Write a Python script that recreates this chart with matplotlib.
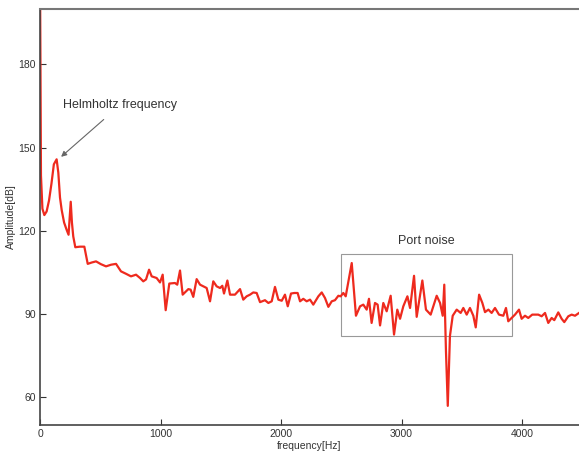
import matplotlib
matplotlib.use("Agg")
import matplotlib.pyplot as plt

plt.rcParams['font.family'] = ['Liberation Sans', 'DejaVu Sans']

freq = [0, 8, 20, 36, 55, 75, 95, 115, 138, 152, 166, 180, 200, 220, 237, 255, 265, 276, 293,
        330, 368, 396, 430, 465, 505, 548, 590, 631, 672, 715, 755, 797, 830, 857, 880, 905,
        927, 968, 996, 1018, 1043, 1073, 1120, 1139, 1162, 1184, 1231, 1250, 1272, 1300, 1328,
        1383, 1411, 1438, 1466, 1494, 1513, 1527, 1555, 1577, 1618, 1660, 1687, 1715, 1743,
        1770, 1798, 1826, 1867, 1895, 1923, 1950, 1978, 2006, 2033, 2056, 2083, 2110, 2138,
        2158, 2185, 2213, 2241, 2268, 2310, 2338, 2365, 2393, 2421, 2448, 2476, 2495, 2517,
        2537, 2587, 2622, 2656, 2683, 2711, 2730, 2752, 2780, 2802, 2822, 2849, 2877, 2910,
        2938, 2965, 2988, 3015, 3049, 3071, 3104, 3126, 3148, 3173, 3203, 3242, 3264, 3292,
        3320, 3342, 3355, 3369, 3384, 3402, 3425, 3458, 3491, 3513, 3541, 3568, 3596, 3616,
        3644, 3671, 3693, 3721, 3748, 3776, 3809, 3845, 3867, 3886, 3914, 3942, 3975, 3997,
        4025, 4052, 4085, 4135, 4163, 4191, 4218, 4246, 4268, 4301, 4329, 4351, 4384, 4412,
        4440, 4473]
amp = [215, 140, 128, 125.7, 127, 131, 137, 144, 145.8, 141, 132, 127.5, 123, 120.5, 118.6, 130.5,
       123, 118, 114.1, 114.3, 114.3, 108.1, 108.6, 109, 108, 107.2, 107.8, 108.1, 105.4, 104.5,
       103.6, 104.2, 103, 101.8, 102.5, 106, 103.6, 103, 101.4, 104.2, 91.4, 101, 101.2,
       100.6, 105.7, 97, 99, 98.8, 96.2, 102.6, 100.6, 99.4, 94.6, 101.8, 100, 99.4, 100.2,
       97.4, 102.1, 97, 97, 99, 95.2, 96.4, 97, 97.8, 97.6, 94.3, 95, 94, 94.6, 99.8, 95.2,
       94.8, 97, 92.8, 97.4, 97.6, 97.6, 94.6, 95.5, 94.6, 95.2, 93.4, 96.4, 97.8, 95.8,
       92.6, 94.6, 95, 96.6, 96.4, 97.6, 96.4, 108.4, 89.4, 92.8, 93.4, 91.6, 95.5, 86.8,
       94, 93.4, 85.9, 94, 91, 96.6, 82.6, 91.6, 88.3, 92.8, 96.4, 92.2, 103.8, 89, 95.2,
       102.1, 91.6, 89.8, 92.8, 96.6, 94, 89.4, 100.6, 76.6, 56.9, 82.1, 89.4, 91.6, 90.4,
       92.2, 89.8, 92.2, 89.4, 85.2, 97, 94, 90.7, 91.6, 90.4, 92.2, 89.8, 89.4, 92.2, 87.4,
       88.6, 89.8, 91.6, 88.3, 89.4, 88.6, 89.8, 89.8, 89.2, 90.4, 86.8, 88.6, 87.8, 90.6,
       88.3, 87.1, 89.2, 89.8, 89.4, 90.4]

xticks = [0, 1000, 2000, 3000, 4000]
yticks = [60, 90, 120, 150, 180]
box_x = [2500, 3920]
box_y = [82, 111.5]

fig = plt.figure(figsize=(5.79, 4.55), dpi=100)
ax = fig.add_axes([40 / 579, 1 - 425 / 455, 1 - 40 / 579, (425 - 9) / 455])

ax.plot(freq, amp, color='#ee2a1e', lw=1.6, solid_joinstyle='round', clip_on=True)
ax.set_xlim(0, 4473)
ax.set_ylim(50, 200)
ax.set_xticks(xticks)
ax.set_yticks(yticks)
ax.tick_params(direction='in', length=4, width=0.8, labelsize=7.5, colors='#333333', pad=3)

for s in ['left', 'bottom']:
    ax.spines[s].set_color('#444444')
    ax.spines[s].set_linewidth(1.2)
ax.spines['top'].set_color('#777777')
ax.spines['top'].set_linewidth(1.5)
ax.spines['right'].set_visible(False)

ax.set_xlabel('frequency[Hz]', fontsize=7.5, color='#333333', labelpad=1)
ax.set_ylabel('Amplitude[dB]', fontsize=7.5, color='#333333', labelpad=2)

ax.add_patch(plt.Rectangle((box_x[0], box_y[0]), box_x[1] - box_x[0], box_y[1] - box_y[0],
                           fill=False, edgecolor='#999999', lw=0.8))
ax.text(3209, 116.2, 'Port noise', fontsize=9, ha='center', va='center', color='#333333')

ax.annotate('Helmholtz frequency', xy=(175, 146.7), xytext=(664, 165.3),
            fontsize=9, ha='center', va='center', color='#333333',
            arrowprops=dict(arrowstyle='-|>', color='#666666', lw=0.8,
                            mutation_scale=8, shrinkA=6, shrinkB=0))

fig.savefig('out.png', dpi=100)
